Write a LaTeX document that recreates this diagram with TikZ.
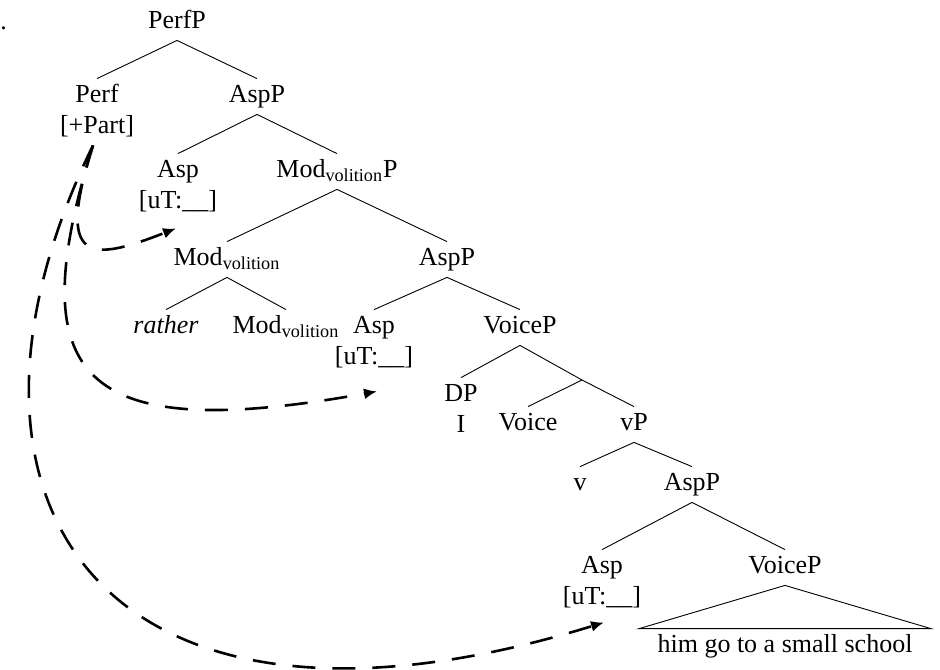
\documentclass[tikz,border=0pt]{standalone}
\usepackage{fontspec}
\setmainfont{Liberation Serif}
\usepackage{tikz}
\usetikzlibrary{arrows,arrows.meta,shapes}
\usetikzlibrary{positioning}
\tikzstyle{cat} = [inner xsep=1pt, inner ysep=2.5pt, text height=9pt,
    text depth=3.5pt, font=\fontsize{13}{15.5}\selectfont]
\tikzstyle{branch} = [line width=0.45pt]
\tikzstyle{move} = [-{Latex[length=6.5pt,width=5.5pt]}, line width=1.3pt,
    dash pattern=on 11.5pt off 8.5pt]

\begin{document}
\begin{tikzpicture}[x=0.5pt, y=-0.5pt, node distance=15.5pt]
  \useasboundingbox (0,0) rectangle (940,669);
  \node [cat, anchor=base west, inner sep=0pt] (ex) at (0,29) {.};
  \node [cat] (perfp) at (177,22.5) {PerfP};
  \node [cat] (perf) at (97,96.5) {Perf};
  \node [cat, below of=perf] (part) {[+Part]};
  \node [cat] (aspp1) at (257,96.5) {AspP};
  \node [cat] (asp1) at (178,171.5) {Asp};
  \node [cat, below of=asp1] (ut1) {[uT:\_\_]};
  \node [cat] (modp) at (337,171.5) {Mod\textsubscript{volition}P};
  \node [cat] (modh) at (227,259.5) {Mod\textsubscript{volition}};
  \node [cat] (aspp2) at (447,259.5) {AspP};
  \node [cat] (rather) at (166,327.5) {\textit{rather}};
  \node [cat] (modl) at (286,327.5) {Mod\textsubscript{volition}};
  \node [cat] (asp2) at (374,327.5) {Asp};
  \node [cat, below of=asp2] (ut2) {[uT:\_\_]};
  \node [cat] (voicep2) at (520,327.5) {VoiceP};
  \node [cat] (dp) at (461,395.5) {DP};
  \node [cat, below of=dp] (pron) {I};
  \coordinate (vbar) at (582,380);
  \node [cat] (voice) at (528,424.5) {Voice};
  \node [cat] (vp) at (634,424.5) {vP};
  \node [cat] (v) at (580,484.5) {v};
  \node [cat] (aspp3) at (692,484.5) {AspP};
  \node [cat] (asp3) at (602,567.5) {Asp};
  \node [cat, below of=asp3] (ut3) {[uT:\_\_]};
  \node [cat] (voicep3) at (785,567.5) {VoiceP};
  \node [cat, inner xsep=9pt] (clause) at (785,646.5) {him go to a small school};

  % branches
  \draw [branch] (perfp.south) -- (perf.north);
  \draw [branch] (perfp.south) -- (aspp1.north);
  \draw [branch] (aspp1.south) -- (asp1.north);
  \draw [branch] (aspp1.south) -- (modp.north);
  \draw [branch] (modp.south) -- (modh.north);
  \draw [branch] (modp.south) -- (aspp2.north);
  \draw [branch] (modh.south) -- (rather.north);
  \draw [branch] (modh.south) -- (modl.north);
  \draw [branch] (aspp2.south) -- (asp2.north);
  \draw [branch] (aspp2.south) -- (voicep2.north);
  \draw [branch] (voicep2.south) -- (dp.north);
  \draw [branch] (voicep2.south) -- (vbar) -- (vp.north);
  \draw [branch] (vbar) -- (voice.north);
  \draw [branch] (vp.south) -- (v.north);
  \draw [branch] (vp.south) -- (aspp3.north);
  \draw [branch] (aspp3.south) -- (asp3.north);
  \draw [branch] (aspp3.south) -- (voicep3.north);
  \draw [branch] (voicep3.south) -- (clause.north west) -- (clause.north east) -- cycle;

  % agree arrows
  \draw [move] ([xshift=-2pt]part.south) .. controls (55,265) and (90,262) .. ([xshift=-1pt,yshift=-4pt]ut1.south);
  \draw [move] ([xshift=-2pt]part.south) .. controls (20,380) and (80,445) .. ([xshift=1.5pt,yshift=-7.5pt]ut2.south);
  \draw [move] ([xshift=-2pt]part.south) .. controls (-80,500) and (100,778) .. ([xshift=1pt,yshift=-3pt]ut3.south);
\end{tikzpicture}
\end{document}
